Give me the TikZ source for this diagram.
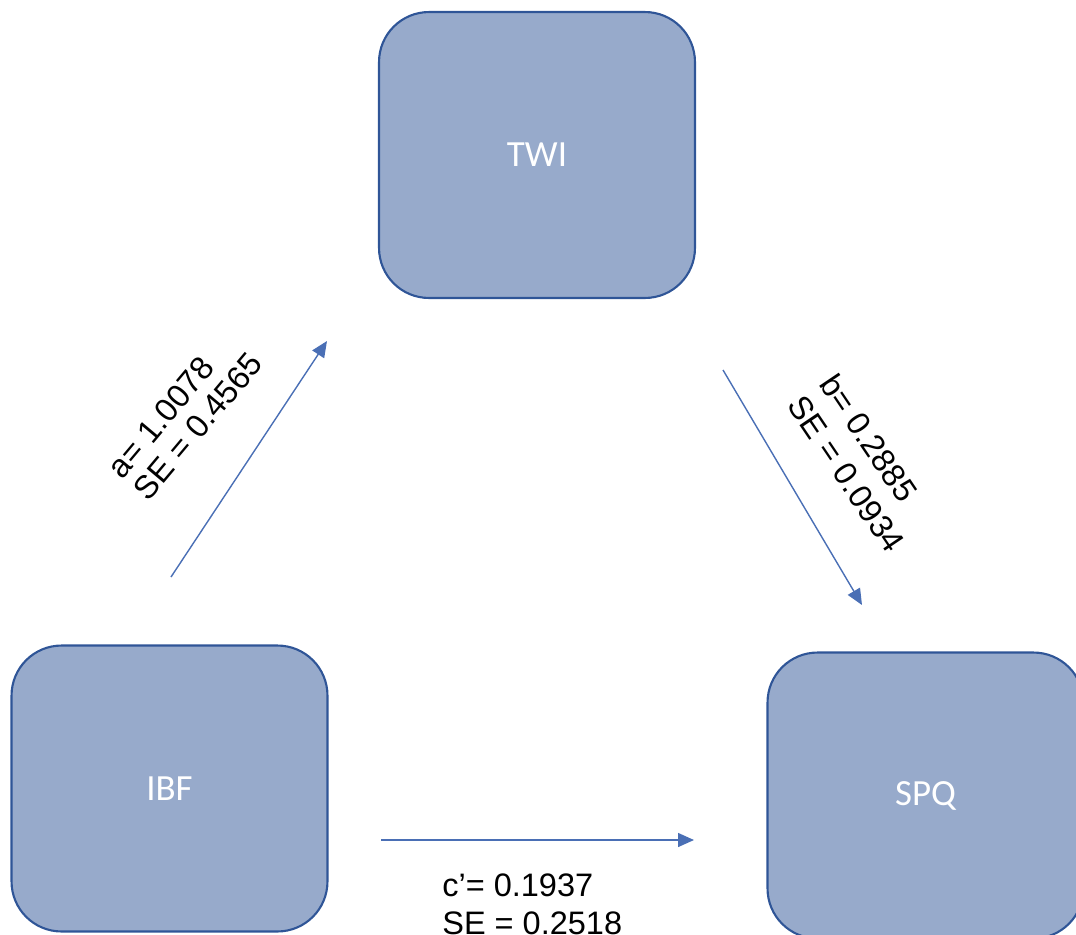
\documentclass[tikz,border=0pt]{standalone}
\usepackage{fontspec}
\setmainfont{Liberation Sans}
\newfontfamily\boxfont{Carlito}
\usepackage{xcolor}
\usetikzlibrary{
    arrows.meta,
    positioning,
    calc
}
\definecolor{boxfill}{HTML}{97AACB}
\definecolor{boxline}{HTML}{2F5597}
\definecolor{linkblue}{HTML}{4A6FB5}
\tikzset{%
    >={Triangle[width=2.8mm,length=3.2mm]},
    % Specifications for style of nodes:
    base/.style = {
        rectangle, rounded corners=1cm, draw=boxline, line width=1.2pt,
        minimum width=6.32cm, minimum height=5.72cm,
        fill=boxfill, text=white,
        font=\boxfont\fontsize{21}{25}\selectfont
    },
    coef/.style = {
        align=left, inner sep=0pt, anchor=south west,
        font=\fontsize{18.5}{22}\selectfont
    },
    link/.style = {->, draw=linkblue, line width=0.8pt}
}

\begin{document}
\begin{tikzpicture}[x=0.02cm, y=-0.02cm]
\clip (0,0) rectangle (1076,934);
% Specification of nodes (position, etc.)
\node (twi)  [base] at (537,155) {TWI};
\node (ibf)  [base] at (169.5,788.5) {IBF};
\node (spq)  [base] at (925.5,795.5) {SPQ};
% Specification of arrow ends
\coordinate (a1) at (171,577);
\coordinate (a2) at (327,341);
\coordinate (b1) at (723,370);
\coordinate (b2) at (862,605);
\coordinate (c1) at (381,840);
\coordinate (c2) at (694,840);
% Specification of labels
\node (alab) [coef, rotate=50, font=\fontsize{18.5}{19.5}\selectfont]
    at (149,503) {a= 1.0078\\SE = 0.4565};
\node (blab) [coef, rotate=-56] at (786,406) {b= 0.2885\\SE = 0.0934};
\node (clab) [coef, anchor=north west] at (442,873) {c’= 0.1937\\SE = 0.2518};
% Specification of paths
\draw[link] (a1) -- (a2);
\draw[link] (b1) -- (b2);
\draw[link] (c1) -- (c2);
\end{tikzpicture}
\end{document}
